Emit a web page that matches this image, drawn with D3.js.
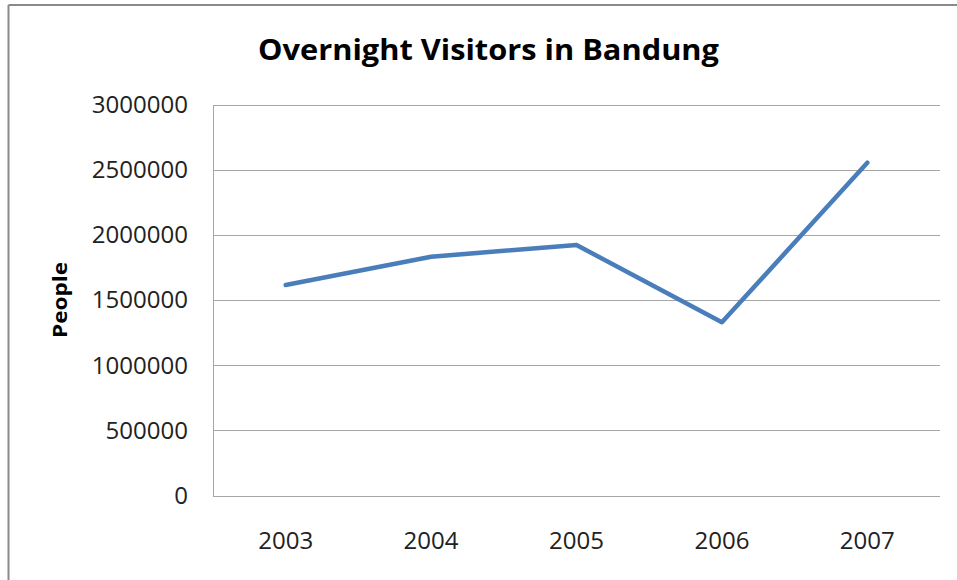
<!DOCTYPE html>
<html>
<head>
<meta charset="utf-8">
<script src="https://cdn.jsdelivr.net/npm/d3@7"></script>
<style>
  body { margin: 0; background: #fff; }
  svg { display: block; }
</style>
</head>
<body>
<div id="chart"></div>
<script>
// data
let years = ['2003', '2004', '2005', '2006', '2007'];
let visitors = [1615000, 1832000, 1922000, 1329000, 2553000];
let yTicks = [0, 500000, 1000000, 1500000, 2000000, 2500000, 3000000];

function ready(fn) {
  if (document.readyState != 'loading'){
    fn();
  } else {
    document.addEventListener('DOMContentLoaded', fn);
  }
}

ready(main);

function main() {
  let width = 957, height = 580;
  let margin = {top: 104.5, right: 17, bottom: 84.5, left: 213};

  let svg = d3.select('#chart').append('svg')
    .attr('width', width)
    .attr('height', height);

  // outer frame (top and left edges visible)
  svg.append('line')
    .attr('x1', 8.5).attr('x2', width).attr('y1', 5).attr('y2', 5)
    .attr('stroke', '#8a8a8a').attr('stroke-width', 2);
  svg.append('line')
    .attr('x1', 8.5).attr('x2', 8.5).attr('y1', 5).attr('y2', height)
    .attr('stroke', '#8a8a8a').attr('stroke-width', 2);

  let xScale = d3.scalePoint()
    .domain(years)
    .range([margin.left, width - margin.right])
    .padding(0.5);

  let yScale = d3.scaleLinear()
    .domain([0, 3000000])
    .range([height - margin.bottom, margin.top]);

  // gridlines
  svg.append('g')
    .selectAll('line')
    .data(yTicks)
    .join('line')
      .attr('x1', margin.left)
      .attr('x2', width - margin.right)
      .attr('y1', d => Math.round(yScale(d)) + 0.5)
      .attr('y2', d => Math.round(yScale(d)) + 0.5)
      .attr('stroke', '#a6a6a6')
      .attr('stroke-width', 1);

  // left axis line
  svg.append('line')
    .attr('x1', margin.left + 0.5).attr('x2', margin.left + 0.5)
    .attr('y1', Math.round(yScale(3000000)) + 0.5)
    .attr('y2', Math.round(yScale(0)) + 0.5)
    .attr('stroke', '#a6a6a6');

  // y tick labels
  svg.append('g')
    .selectAll('text')
    .data(yTicks)
    .join('text')
      .attr('x', 188)
      .attr('y', d => yScale(d))
      .attr('dy', '0.35em')
      .attr('text-anchor', 'end')
      .attr('font-family', 'Open Sans, sans-serif')
      .attr('font-size', 24)
      .attr('fill', '#222')
      .attr('textLength', d => String(d).length * 13.75)
      .attr('lengthAdjust', 'spacingAndGlyphs')
      .text(d => d);

  // x tick labels
  svg.append('g')
    .selectAll('text')
    .data(years)
    .join('text')
      .attr('x', d => xScale(d))
      .attr('y', 549)
      .attr('text-anchor', 'middle')
      .attr('font-family', 'Open Sans, sans-serif')
      .attr('font-size', 24)
      .attr('fill', '#222')
      .attr('textLength', 55)
      .attr('lengthAdjust', 'spacingAndGlyphs')
      .text(d => d);

  // the series
  let line = d3.line()
    .x((d, i) => xScale(years[i]))
    .y(d => yScale(d));

  svg.append('path')
    .datum(visitors)
    .attr('d', line)
    .attr('fill', 'none')
    .attr('stroke', '#4a7ebb')
    .attr('stroke-width', 4.5)
    .attr('stroke-linejoin', 'round')
    .attr('stroke-linecap', 'round');

  // title
  svg.append('text')
    .attr('x', 258)
    .attr('y', 60)
    .attr('font-family', 'Open Sans, sans-serif')
    .attr('font-weight', 'bold')
    .attr('font-size', 29)
    .attr('fill', '#000')
    .attr('textLength', 461)
    .attr('lengthAdjust', 'spacingAndGlyphs')
    .text('Overnight Visitors in Bandung');

  // y axis title
  svg.append('text')
    .attr('transform', 'translate(67,300) rotate(-90)')
    .attr('text-anchor', 'middle')
    .attr('font-family', 'Open Sans, sans-serif')
    .attr('font-weight', 'bold')
    .attr('font-size', 20)
    .attr('fill', '#000')
    .attr('textLength', 76)
    .attr('lengthAdjust', 'spacingAndGlyphs')
    .text('People');
}
</script>
</body>
</html>
